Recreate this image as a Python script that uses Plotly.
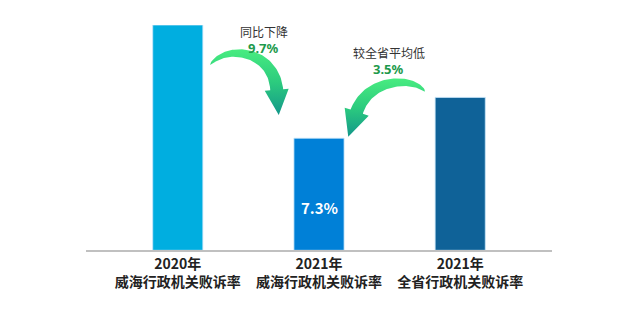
import numpy as np
import plotly.graph_objects as go

# ---- data ----
categories = ["2020年<br>威海行政机关败诉率", "2021年<br>威海行政机关败诉率", "2021年<br>全省行政机关败诉率"]
rates = [17.0, 7.3, 10.8]
bar_text = ["", "7.3%", ""]
yoy_label = "同比下降"
yoy_value = "9.7%"
prov_label = "较全省平均低"
prov_value = "3.5%"

bar_colors = ["#00AEE0", "#0080D7", "#0F6298"]
Y_FLOOR = -2.3
W, H = 640, 322
FONT = "Noto Sans CJK SC, Noto Sans, sans-serif"
LATIN = "Noto Sans, sans-serif"

fig = go.Figure()

x_idx = list(range(len(categories)))
fig.add_trace(go.Bar(
    x=x_idx, y=[v - Y_FLOOR for v in rates], base=Y_FLOOR,
    marker=dict(color=bar_colors, line=dict(color="rgba(200,230,250,0.8)", width=1)),
    width=0.355, hoverinfo="skip", showlegend=False,
    xaxis="x", yaxis="y",
))


def curved_arrow(p0, p1, p2, p3, wmax, hw, hl, n=60):
    P = np.array([p0, p1, p2, p3], dtype=float)
    t = np.linspace(0, 1, n)[:, None]
    B = ((1 - t) ** 3) * P[0] + 3 * ((1 - t) ** 2) * t * P[1] + 3 * (1 - t) * t ** 2 * P[2] + t ** 3 * P[3]
    D = 3 * ((1 - t) ** 2) * (P[1] - P[0]) + 6 * (1 - t) * t * (P[2] - P[1]) + 3 * t ** 2 * (P[3] - P[2])
    D = D / np.linalg.norm(D, axis=1, keepdims=True)
    N = np.stack([-D[:, 1], D[:, 0]], axis=1)
    w = (wmax / 2) * (t[:, 0] ** 0.55)
    left = B + N * w[:, None]
    right = B - N * w[:, None]
    b1, d1, n1 = B[-1], D[-1], N[-1]
    head = [b1 + n1 * hw, b1 + d1 * hl, b1 - n1 * hw]
    pts = np.vstack([left, head, right[::-1], left[:1]])
    return pts[:, 0], pts[:, 1]


grad = dict(type="vertical", colorscale=[[0, "#13978A"], [0.5, "#2CCB7E"], [1, "#48EC80"]])

ax, ay = curved_arrow((210, 65), (226, 44), (273.5, 50), (276.7, 89.7), 13, 12, 25.5)
fig.add_trace(go.Scatter(x=ax, y=ay, mode="lines", line=dict(width=0), fill="toself",
                         fillgradient=grad, hoverinfo="skip", showlegend=False,
                         xaxis="x2", yaxis="y2"))
bx, by = curved_arrow((425, 91.5), (413, 76), (367.9, 78.5), (356.7, 111.7), 13, 12.7, 26.4)
fig.add_trace(go.Scatter(x=bx, y=by, mode="lines", line=dict(width=0), fill="toself",
                         fillgradient=grad, hoverinfo="skip", showlegend=False,
                         xaxis="x2", yaxis="y2"))

GREEN = "#1E9A4C"

ann = []
for lab, val, cx, ly in [(yoy_label, yoy_value, 263.5, 31.5), (prov_label, prov_value, 388.5, 52)]:
    ann.append(dict(x=cx, y=ly, xref="x2", yref="y2", text=lab, showarrow=False,
                    font=dict(family=FONT, size=12, color="#333333")))
    ann.append(dict(x=cx, y=ly + 16.5, xref="x2", yref="y2", text="<b>" + val + "</b>", showarrow=False,
                    font=dict(family=LATIN, size=13, color=GREEN)))
for i, (v, t) in enumerate(zip(rates, bar_text)):
    if t:
        ann.append(dict(x=i, y=Y_FLOOR + (v - Y_FLOOR) * 0.385, xref="x", yref="y",
                        text="<b>" + t + "</b>", showarrow=False,
                        font=dict(family=FONT, size=15, color="white")))

ticktext = ["<b>" + c + "</b>" for c in categories]

fig.update_layout(
    width=W, height=H, margin=dict(l=0, r=0, t=0, b=0),
    paper_bgcolor="white", plot_bgcolor="rgba(0,0,0,0)",
    font=dict(family=FONT, color="#222222"),
    xaxis=dict(domain=[86 / W, 552 / W], range=[-0.65, 2.65], tickvals=x_idx, ticktext=ticktext,
               tickfont=dict(size=14, color="#222222", family=FONT), showline=True,
               linecolor="#C0C0C0", linewidth=2, showgrid=False, zeroline=False, ticks="",
               fixedrange=True),
    yaxis=dict(domain=[(H - 250.3) / H, (H - 25) / H], range=[Y_FLOOR, max(rates)], visible=False,
               showgrid=False, zeroline=False, fixedrange=True),
    xaxis2=dict(domain=[0, 1], range=[0, W], visible=False, anchor="y2"),
    yaxis2=dict(domain=[0, 1], range=[H, 0], visible=False, anchor="x2"),
    annotations=ann,
    showlegend=False,
)
fig.write_html("out.html", config={"displayModeBar": False})
